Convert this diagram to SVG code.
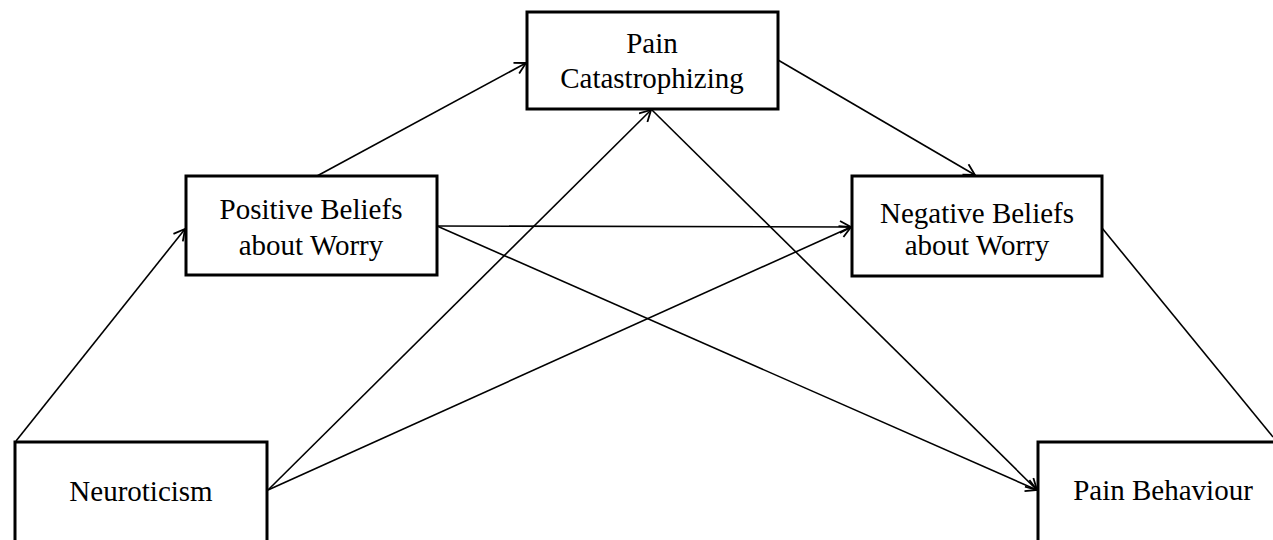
<svg xmlns="http://www.w3.org/2000/svg" width="1273" height="540" viewBox="0 0 1273 540">
<style>
.box{fill:#fff;stroke:#000;stroke-width:3}
.t{font-family:"Liberation Serif","Times New Roman",serif;font-size:29px;fill:#000;text-anchor:middle}
.c{fill:none;stroke:#000;stroke-width:1.6}
</style>
<defs>
<marker id="ah" markerWidth="14" markerHeight="14" refX="12" refY="7" orient="auto" markerUnits="userSpaceOnUse">
<path d="M1,1 L12,7 L1,13" fill="none" stroke="#000" stroke-width="1.8"/>
</marker>
</defs>
<rect width="1273" height="540" fill="#fff"/>
<g id="connectors">
<line class="c" x1="16" y1="441" x2="185" y2="229" marker-end="url(#ah)"/>
<line class="c" x1="317" y1="176" x2="526" y2="63" marker-end="url(#ah)"/>
<line class="c" x1="778" y1="60" x2="975" y2="175" marker-end="url(#ah)"/>
<line class="c" x1="437" y1="226" x2="851" y2="227" marker-end="url(#ah)"/>
<line class="c" x1="437" y1="226" x2="1037" y2="490" marker-end="url(#ah)"/>
<line class="c" x1="268" y1="490" x2="651" y2="110" marker-end="url(#ah)"/>
<line class="c" x1="268" y1="490" x2="851" y2="227" marker-end="url(#ah)"/>
<line class="c" x1="652" y1="110" x2="1037" y2="490" marker-end="url(#ah)"/>
<line class="c" x1="1102" y1="228" x2="1273" y2="437"/>
</g>
<g id="neuroticism">
<rect class="box" x="15" y="442" width="252" height="110"/>
<text class="t" x="141" y="501">Neuroticism</text>
</g>
<g id="positive-beliefs">
<rect class="box" x="186" y="176" width="251" height="99"/>
<text class="t" x="311" y="219">Positive Beliefs</text>
<text class="t" x="311" y="255">about Worry</text>
</g>
<g id="pain-catastrophizing">
<rect class="box" x="527" y="12" width="251" height="97"/>
<text class="t" x="652" y="53">Pain</text>
<text class="t" x="652" y="88">Catastrophizing</text>
</g>
<g id="negative-beliefs">
<rect class="box" x="852" y="176" width="250" height="100"/>
<text class="t" x="977" y="223">Negative Beliefs</text>
<text class="t" x="977" y="255">about Worry</text>
</g>
<g id="pain-behaviour">
<rect class="box" x="1038" y="442" width="250" height="110"/>
<text class="t" x="1163" y="500">Pain Behaviour</text>
</g>
</svg>
